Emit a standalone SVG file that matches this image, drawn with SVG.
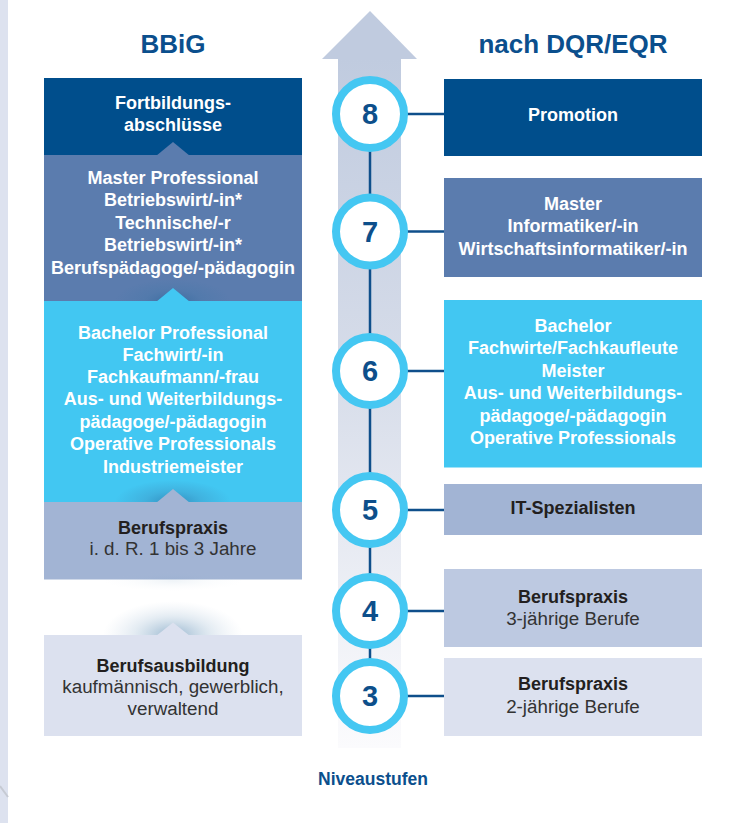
<svg xmlns="http://www.w3.org/2000/svg" width="734" height="823" viewBox="0 0 734 823">
<defs>
<linearGradient id="shaft" x1="0" y1="0" x2="0" y2="1">
<stop offset="0" stop-color="#c0cbdf"/>
<stop offset="0.45" stop-color="#d6dce9"/>
<stop offset="0.8" stop-color="#eef0f6"/>
<stop offset="1" stop-color="#fbfbfd"/>
</linearGradient>
<radialGradient id="glow">
<stop offset="0" stop-color="#1d5b92" stop-opacity="0.55"/>
<stop offset="0.5" stop-color="#3a74a6" stop-opacity="0.25"/>
<stop offset="1" stop-color="#3a74a6" stop-opacity="0"/>
</radialGradient>
<radialGradient id="glowLight">
<stop offset="0" stop-color="#4f83ad" stop-opacity="0.6"/>
<stop offset="0.55" stop-color="#8fb0cc" stop-opacity="0.25"/>
<stop offset="1" stop-color="#b8cade" stop-opacity="0"/>
</radialGradient>
<style>
text{font-family:"Liberation Sans",Arial,Helvetica,sans-serif;text-anchor:middle}
.hd{font-size:26px;font-weight:bold;fill:#0b4f8d}
.w{font-size:18px;font-weight:bold;fill:#ffffff}
.b{font-size:18px;font-weight:bold;fill:#231f20}
.r{font-size:18.8px;fill:#333333}
.num{font-size:29px;font-weight:bold;fill:#0d4f8b}
.ring{fill:#ffffff;stroke:#44c7f2;stroke-width:8}
.con{stroke:#0f4f8b;stroke-width:2.5;fill:none}
.dk{fill:#004e8c}
.sl{fill:#5b7cae}
.cy{fill:#42c7f2}
.gb{fill:#a2b4d4}
.lb{fill:#bdc9e1}
.pl{fill:#dce1ef}
</style>
</defs>

<rect x="0" y="0" width="734" height="823" fill="#ffffff"/>
<rect x="0" y="0" width="8" height="823" fill="#dde2ef"/>
<line x1="0" y1="786" x2="8" y2="797" stroke="#c6cad3" stroke-width="2"/>

<g id="headers">
<text class="hd" x="173" y="53">BBiG</text>
<text class="hd" x="573" y="53">nach DQR/EQR</text>
</g>

<g id="arrow">
<rect x="338" y="58" width="63" height="690" fill="url(#shaft)"/>
<polygon points="322,59 370,11 417,59" fill="#c0cbdf"/>
</g>

<!-- left column -->
<g id="fortbildung">
<rect class="dk" x="44" y="78" width="258" height="78"/>
<text class="w" x="173" y="109">Fortbildungs-</text>
<text class="w" x="173" y="131">abschlüsse</text>
</g>
<g id="master-professional">
<rect class="sl" x="44" y="155" width="258" height="146"/>
<polygon class="sl" points="156,156 173,142 190,156"/>
<text class="w" x="173" y="183.5">Master Professional</text>
<text class="w" x="173" y="206">Betriebswirt/-in*</text>
<text class="w" x="173" y="228.5">Technische/-r</text>
<text class="w" x="173" y="251">Betriebswirt/-in*</text>
<text class="w" x="173" y="273.5">Berufspädagoge/-pädagogin</text>
</g>
<ellipse cx="173" cy="301" rx="58" ry="22" fill="url(#glow)"/>
<g id="bachelor-professional">
<rect class="cy" x="44" y="301" width="258" height="201"/>
<polygon class="cy" points="156,302 173,288 190,302"/>
<text class="w" x="173" y="338.5">Bachelor Professional</text>
<text class="w" x="173" y="361">Fachwirt/-in</text>
<text class="w" x="173" y="383">Fachkaufmann/-frau</text>
<text class="w" x="173" y="405">Aus- und Weiterbildungs-</text>
<text class="w" x="173" y="427.5">pädagoge/-pädagogin</text>
<text class="w" x="173" y="450">Operative Professionals</text>
<text class="w" x="173" y="472.5">Industriemeister</text>
</g>
<ellipse cx="173" cy="502" rx="58" ry="22" fill="url(#glow)"/>
<g id="berufspraxis-left">
<rect class="gb" x="44" y="502" width="258" height="77.5"/>
<polygon class="gb" points="156,503 173,489 190,503"/>
<text class="b" x="173" y="533.5">Berufspraxis</text>
<text class="r" x="173" y="555">i. d. R. 1 bis 3 Jahre</text>
</g>
<ellipse cx="173" cy="581" rx="70" ry="10" fill="url(#glowLight)" opacity="0.15"/>
<ellipse cx="173" cy="635" rx="70" ry="34" fill="url(#glowLight)"/>
<g id="berufsausbildung">
<rect class="pl" x="44" y="635" width="258" height="101"/>
<polygon class="pl" points="156,636 173,622.5 190,636"/>
<text class="b" x="173" y="672">Berufsausbildung</text>
<text class="r" x="173" y="693">kaufmännisch, gewerblich,</text>
<text class="r" x="173" y="715">verwaltend</text>
</g>

<!-- connectors -->
<g id="connectors">
<line class="con" x1="370" y1="114" x2="370" y2="696"/>
<line class="con" x1="400" y1="114" x2="444" y2="114"/>
<line class="con" x1="400" y1="231.5" x2="444" y2="231.5"/>
<line class="con" x1="400" y1="371" x2="444" y2="371"/>
<line class="con" x1="400" y1="510" x2="444" y2="510"/>
<line class="con" x1="400" y1="611" x2="444" y2="611"/>
<line class="con" x1="400" y1="696" x2="444" y2="696"/>
</g>

<!-- level circles -->
<g id="level-8"><circle class="ring" cx="370" cy="114" r="34"/><text class="num" x="370" y="123.5">8</text></g>
<g id="level-7"><circle class="ring" cx="370" cy="231.5" r="34"/><text class="num" x="370" y="241.5">7</text></g>
<g id="level-6"><circle class="ring" cx="370" cy="371" r="34"/><text class="num" x="370" y="381">6</text></g>
<g id="level-5"><circle class="ring" cx="370" cy="510" r="34"/><text class="num" x="370" y="520">5</text></g>
<g id="level-4"><circle class="ring" cx="370" cy="611" r="34"/><text class="num" x="370" y="621">4</text></g>
<g id="level-3"><circle class="ring" cx="370" cy="696" r="34"/><text class="num" x="370" y="706">3</text></g>

<!-- right column -->
<g id="promotion">
<rect class="dk" x="444" y="79" width="258" height="77"/>
<text class="w" x="573" y="120.5">Promotion</text>
</g>
<g id="master-right">
<rect class="sl" x="444" y="178" width="258" height="99"/>
<text class="w" x="573" y="210">Master</text>
<text class="w" x="573" y="232">Informatiker/-in</text>
<text class="w" x="573" y="254.5">Wirtschaftsinformatiker/-in</text>
</g>
<g id="bachelor-right">
<rect class="cy" x="444" y="300" width="258" height="167.5"/>
<text class="w" x="573" y="331.5">Bachelor</text>
<text class="w" x="573" y="354">Fachwirte/Fachkaufleute</text>
<text class="w" x="573" y="376.5">Meister</text>
<text class="w" x="573" y="399">Aus- und Weiterbildungs-</text>
<text class="w" x="573" y="421.5">pädagoge/-pädagogin</text>
<text class="w" x="573" y="443.5">Operative Professionals</text>
</g>
<g id="it-spezialisten">
<rect class="gb" x="444" y="484" width="258" height="51"/>
<text class="b" x="573" y="513.5">IT-Spezialisten</text>
</g>
<g id="berufspraxis-3">
<rect class="lb" x="444" y="569" width="258" height="78"/>
<text class="b" x="573" y="602.5">Berufspraxis</text>
<text class="r" x="573" y="625">3-jährige Berufe</text>
</g>
<g id="berufspraxis-2">
<rect class="pl" x="444" y="658" width="258" height="78"/>
<text class="b" x="573" y="690">Berufspraxis</text>
<text class="r" x="573" y="712.5">2-jährige Berufe</text>
</g>

<g id="niveaustufen">
<text x="373" y="784.5" style="font-size:17.5px;font-weight:bold;fill:#0b4f8d">Niveaustufen</text>
</g>
</svg>
